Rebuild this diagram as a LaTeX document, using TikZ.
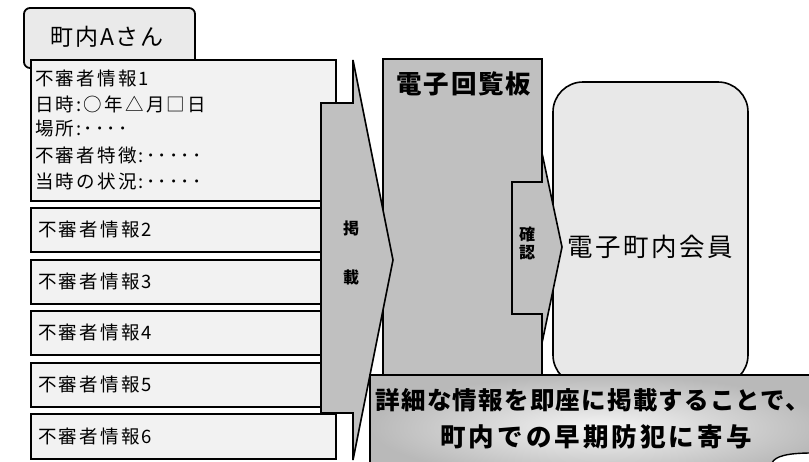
\documentclass[tikz,border=0pt]{standalone}
\usepackage{fontspec}
\newfontfamily\jp{Noto Sans CJK JP}
\newcommand\jfs[2]{\fontsize{#1}{#1}\selectfont\addfontfeature{LetterSpace=#2}}
\definecolor{infofill}{HTML}{F2F2F2}
\definecolor{tabfill}{HTML}{EAEAEA}
\definecolor{boardgray}{HTML}{C0C0C0}
\definecolor{memberfill}{HTML}{E8E8E8}
\tikzset{
  infobox/.style={draw=black, line width=2pt, fill=infofill, anchor=north west, minimum width=305pt, minimum height=44pt, inner sep=0pt},
  infotxt/.style={anchor=west, inner sep=0pt, font=\jp\jfs{18.5}{12}},
  grayshape/.style={draw=black, line width=1.6pt, fill=boardgray, line join=miter},
  smallbold/.style={font=\jp\bfseries\fontsize{16}{16}\selectfont, inner sep=0pt},
}
\begin{document}
\begin{tikzpicture}[x=1pt,y=-1pt]
\useasboundingbox (0,0) rectangle (809,461);
\clip (0,0) rectangle (809,461);
% tab
\draw[line width=1.8pt, fill=tabfill, rounded corners=6pt] (24,8) rectangle (195,68);
\node[font=\jp\jfs{23}{8}, inner sep=0pt] (tab) at (107,37) {町内Aさん};
% board
\draw[grayshape] (383,59) rectangle (542,385);
\node[font=\jp\bfseries\jfs{25.5}{7}, inner sep=0pt] (board) at (464,84) {電子回覧板};
% info box 1
\node[infobox, minimum height=141pt] (b1) at (30,59) {};
\node[infotxt] (t1a) at (35,78) {不審者情報1};
\node[infotxt] (t1b) at (35,104) {日時:○年△月□日};
\node[infotxt] (t1c) at (35,129) {場所:････};
\node[infotxt] (t1d) at (35,155) {不審者特徴:･････};
\node[infotxt] (t1e) at (35,181) {当時の状況:･････};
% boxes 2-6
\node[infobox] (b2) at (30,207) {};
\node[infotxt] at (38,229) {不審者情報2};
\node[infobox] (b3) at (30,259) {};
\node[infotxt] at (38,281) {不審者情報3};
\node[infobox] (b4) at (30,310) {};
\node[infotxt] at (38,332) {不審者情報4};
\node[infobox] (b5) at (30,362) {};
\node[infotxt] at (38,384) {不審者情報5};
% keisai arrow
\draw[grayshape] (321,103) -- (353,103) -- (353,60) -- (393,260) -- (353,460) -- (353,413) -- (321,413) -- cycle;
\node[smallbold] (k1) at (351,228) {掲};
\node[smallbold] (k2) at (351,277) {載};
\node[infobox, minimum height=45pt] (b6) at (30,413) {};
\node[infotxt] at (38,436) {不審者情報6};
% member box
\draw[line width=1.6pt, fill=memberfill, rounded corners=30pt] (553,82) rectangle (748,385);
% kakunin arrow
\draw[grayshape] (512,182) -- (542,182) -- (542,153) -- (562,247) -- (542,343) -- (542,314) -- (512,314) -- cycle;
\node[smallbold] (c1) at (527,234) {確};
\node[smallbold] (c2) at (527,253) {認};
\node[font=\jp\jfs{25.5}{10}, inner sep=0pt] (member) at (650,247) {電子町内会員};
% banner
\draw[line width=1.6pt, inner color=gray!8, outer color=gray!55, shade] (370,375) rectangle (830,480);
\node[font=\jp\bfseries\jfs{24.5}{5}, inner sep=0pt] (l1) at (593,400) {詳細な情報を即座に掲載することで、};
\node[font=\jp\bfseries\jfs{25.5}{12}, inner sep=0pt] (l2) at (596,437) {町内での早期防犯に寄与};
% corner curl
\draw[line width=1.4pt, fill=white] (772,463) .. controls (775,456) and (788,453) .. (812,453) -- (812,463) -- cycle;
\end{tikzpicture}
\end{document}
